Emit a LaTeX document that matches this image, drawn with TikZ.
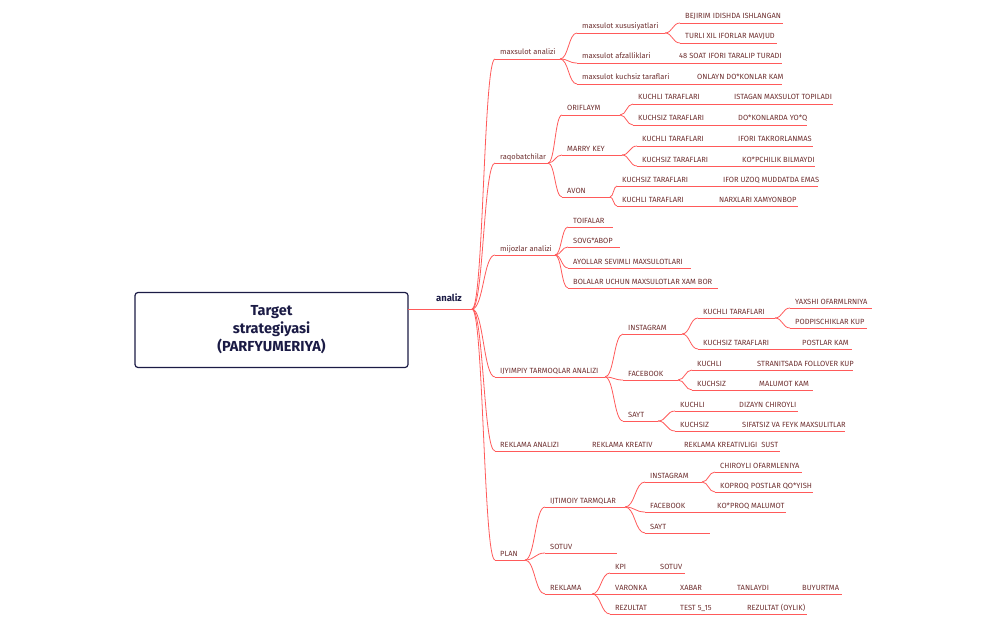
\documentclass[tikz,border=0pt]{standalone}
\usepackage{fontspec}
\setmainfont{Fira Sans}
\usetikzlibrary{calc}
\definecolor{lc}{HTML}{FF5A5A}
\definecolor{tc}{HTML}{6E3030}
\definecolor{nv}{HTML}{1B1B45}
\tikzset{ln/.style={draw=lc,line width=0.8pt},
 lbl/.style={anchor=base west,inner sep=0pt,text=tc,font=\fontsize{7.5}{9}\selectfont}}
\newcommand\tp[5]{\coordinate (#1-s) at (#2,#4);\coordinate (#1-e) at (#3,#4);
 \draw[ln] (#1-s)--(#1-e);\node[lbl] (#1) at ([xshift=5pt,yshift=4pt]#1-s) {#5};}
\newcommand\tx[4]{\node[lbl] (#1) at ([yshift=4pt]#2,#3) {#4};}
\newcommand\lk[2]{\path ($(#1-e)!0.5!(#2-s)$) coordinate (mm);
 \draw[ln] (#1-e) .. controls (mm|-#1-e) and (mm|-#2-s) .. (#2-s);}
\begin{document}
\begin{tikzpicture}[x=1pt,y=-1pt]
\useasboundingbox (0,0) rectangle (1006,623);
\node[draw=nv,line width=1.2pt,rounded corners=3pt,minimum width=273pt,minimum height=75pt,align=center,text=nv,font=\fontsize{14.5}{18}\selectfont\bfseries] (root) at (271.5,330) {Target\\strategiyasi\\(PARFYUMERIYA)};
\coordinate (an-s) at (408,309);\coordinate (an-e) at (472,309);
\draw[ln] (an-s)--(an-e);
\node[anchor=base,inner sep=0pt,text=nv,font=\fontsize{9.5}{11}\selectfont\bfseries] (an) at (449,301) {analiz};
% main branches
\tp{ma}{495}{560}{59}{maxsulot analizi}
\tp{rq}{495}{548}{163}{raqobatchilar}
\tp{mj}{495}{555}{255}{mijozlar analizi}
\tp{ij}{495}{605}{377}{IJYIMPIY TARMOQLAR ANALIZI}
\tp{ra}{495}{780}{451}{REKLAMA ANALIZI}
\tx{ra2}{592}{451}{REKLAMA KREATIV}
\tx{ra3}{684}{451}{REKLAMA KREATIVLIGI\ \ SUST}
\tp{pl}{495}{525}{560}{PLAN}
\foreach \b in {ma,rq,mj,ij,ra,pl}{\lk{an}{\b}}
% maxsulot analizi
\tp{mx}{577}{665}{33}{maxsulot xususiyatlari}
\tp{bj}{680}{783}{23}{BEJIRIM IDISHDA ISHLANGAN}
\tp{tx}{680}{777}{43}{TURLI XIL IFORLAR MAVJUD}
\lk{mx}{bj}\lk{mx}{tx}
\tp{mf}{577}{782}{63}{maxsulot afzalliklari}
\tx{mf2}{679}{63}{48 SOAT IFORI TARALIP TURADI}
\tp{mk}{577}{782}{84}{maxsulot kuchsiz taraflari}
\tx{mk2}{697}{84}{ONLAYN DO*KONLAR KAM}
\lk{ma}{mx}\lk{ma}{mf}\lk{ma}{mk}
% raqobatchilar
\tp{or}{562}{620}{115}{ORIFLAYM}
\tp{or1}{633}{833}{104}{KUCHLI TARAFLARI}\tx{or1b}{734}{104}{ISTAGAN MAXSULOT TOPILADI}
\tp{or2}{633}{807}{125}{KUCHSIZ TARAFLARI}\tx{or2b}{738}{125}{DO*KONLARDA YO*Q}
\lk{or}{or1}\lk{or}{or2}
\tp{mr}{562}{622}{155}{MARRY KEY}
\tp{mr1}{637}{813}{146}{KUCHLI TARAFLARI}\tx{mr1b}{738}{146}{IFORI TAKRORLANMAS}
\tp{mr2}{637}{815}{166}{KUCHSIZ TARAFLARI}\tx{mr2b}{742}{166}{KO*PCHILIK BILMAYDI}
\lk{mr}{mr1}\lk{mr}{mr2}
\tp{av}{562}{610}{197}{AVON}
\tp{av1}{617}{818}{186}{KUCHSIZ TARAFLARI}\tx{av1b}{723}{186}{IFOR UZOQ MUDDATDA EMAS}
\tp{av2}{617}{798}{206}{KUCHLI TARAFLARI}\tx{av2b}{719}{206}{NARXLARI XAMYONBOP}
\lk{av}{av1}\lk{av}{av2}
\lk{rq}{or}\lk{rq}{mr}\lk{rq}{av}
% mijozlar
\tp{m1}{568}{613}{227}{TOIFALAR}
\tp{m2}{568}{620}{247}{SOVG*ABOP}
\tp{m3}{568}{691}{268}{AYOLLAR SEVIMLI MAXSULOTLARI}
\tp{m4}{568}{718}{288}{BOLALAR UCHUN MAXSULOTLAR XAM BOR}
\foreach \b in {m1,m2,m3,m4}{\lk{mj}{\b}}
% ijtimoiy
\tp{in}{623}{682}{334}{INSTAGRAM}
\tp{in1}{698}{775}{318}{KUCHLI TARAFLARI}
\tp{in1a}{790}{872}{308}{YAXSHI OFARMLRNIYA}
\tp{in1b}{790}{867}{328}{PODPISCHIKLAR KUP}
\lk{in1}{in1a}\lk{in1}{in1b}
\tp{in2}{698}{852}{349}{KUCHSIZ TARAFLARI}\tx{in2b}{802}{349}{POSTLAR KAM}
\lk{in}{in1}\lk{in}{in2}
\tp{fb}{623}{678}{380}{FACEBOOK}
\tp{fb1}{692}{853}{370}{KUCHLI}\tx{fb1b}{757}{370}{STRANITSADA FOLLOVER KUP}
\tp{fb2}{692}{813}{390}{KUCHSIZ}\tx{fb2b}{759}{390}{MALUMOT KAM}
\lk{fb}{fb1}\lk{fb}{fb2}
\tp{sy}{623}{658}{421}{SAYT}
\tp{sy1}{675}{798}{411}{KUCHLI}\tx{sy1b}{739}{411}{DIZAYN CHIROYLI}
\tp{sy2}{675}{845}{431}{KUCHSIZ}\tx{sy2b}{742}{431}{SIFATSIZ VA FEYK MAXSULITLAR}
\lk{sy}{sy1}\lk{sy}{sy2}
\lk{ij}{in}\lk{ij}{fb}\lk{ij}{sy}
% plan
\tp{it}{545}{625}{507}{IJTIMOIY TARMQLAR}
\tp{pi}{645}{702}{482}{INSTAGRAM}
\tp{pi1}{715}{802}{472}{CHIROYLI OFARMLENIYA}
\tp{pi2}{715}{813}{492}{KOPROQ POSTLAR QO*YISH}
\lk{pi}{pi1}\lk{pi}{pi2}
\tp{pf}{645}{786}{512}{FACEBOOK}\tx{pfb}{717}{512}{KO*PROQ MALUMOT}
\tp{ps}{645}{710}{533}{SAYT}
\lk{it}{pi}\lk{it}{pf}\lk{it}{ps}
\tp{st}{545}{617}{553}{SOTUV}
\tp{rk}{545}{592}{594}{REKLAMA}
\tp{kp}{610}{685}{573}{KPI}\tx{kpb}{660}{573}{SOTUV}
\tp{vr}{610}{842}{594}{VARONKA}\tx{vr2}{680}{594}{XABAR}\tx{vr3}{737}{594}{TANLAYDI}\tx{vr4}{802}{594}{BUYURTMA}
\tp{rz}{610}{807}{614}{REZULTAT}\tx{rz2}{680}{614}{TEST 5\_15}\tx{rz3}{747}{614}{REZULTAT (OYLIK)}
\lk{rk}{kp}\lk{rk}{vr}\lk{rk}{rz}
\lk{pl}{it}\lk{pl}{st}\lk{pl}{rk}
\end{tikzpicture}
\end{document}
